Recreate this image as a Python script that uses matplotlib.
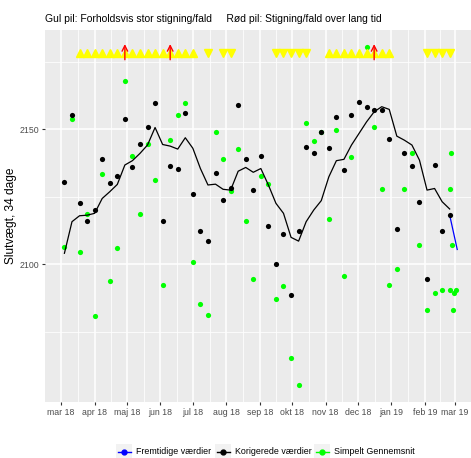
import numpy as np
import pandas as pd
import matplotlib
matplotlib.use('Agg')
import matplotlib.pyplot as plt
from matplotlib.lines import Line2D
from matplotlib.patches import Rectangle

plt.rcParams['font.family'] = ['Liberation Sans', 'DejaVu Sans']

# ---------- DATA ------------------------------------------------------------
uger = pd.date_range('2018-03-04', periods=52, freq='7D')

korrigeret = [2130.5, 2155.3, 2122.6, 2116.0, 2119.9, 2139.0, 2129.9, 2132.6,
              2153.6, 2135.8, 2144.6, 2150.6, 2159.6, 2116.0, 2136.3, 2135.2,
              2156.0, 2126.0, 2112.2, 2108.6, 2133.7, 2123.8, 2128.3, 2158.9,
              2138.8, 2127.6, 2140.0, 2114.1, 2099.9, 2111.0, 2088.5, 2112.2,
              2143.2, 2141.0, 2148.8, 2143.1, 2154.4, 2134.8, 2155.1, 2160.0,
              2158.3, 2157.0, 2157.0, 2146.4, 2113.0, 2141.0, 2136.4, 2122.9,
              2094.4, 2136.8, 2112.3, 2118.1]

gennemsnit = [2106.2, 2153.7, 2104.4, 2118.5, 2080.7, 2133.3, 2093.6, 2105.8,
              2167.8, 2139.9, 2118.4, 2144.3, 2131.1, 2092.3, 2145.9, 2155.2,
              2159.6, 2100.6, 2085.2, 2081.1, 2149.0, 2139.0, 2126.9, 2142.6,
              2116.0, 2094.6, 2132.6, 2129.5, 2086.9, 2091.7, 2065.1, 2055.1,
              2152.3, 2145.6, 2149.0, 2116.7, 2149.6, 2095.6, 2139.7, 2177.4,
              2180.5, 2150.9, 2127.9, 2092.3, 2098.3, 2127.9, 2141.0, 2107.0,
              2082.9, 2089.2, 2090.4, 2090.3]

glattet = [2104.0, 2115.7, 2117.9, 2118.1, 2118.8, 2124.3, 2126.8, 2129.5,
           2136.7, 2138.3, 2141.0, 2144.1, 2150.6, 2144.3, 2143.7, 2142.6,
           2146.8, 2142.9, 2135.4, 2129.3, 2129.6, 2127.7, 2127.4, 2134.4,
           2135.8, 2134.0, 2135.4, 2129.3, 2122.5, 2118.8, 2109.9, 2108.5,
           2115.7, 2120.0, 2123.5, 2132.3, 2138.3, 2138.8, 2144.1, 2148.4,
           2152.7, 2156.4, 2158.3, 2157.3, 2147.4, 2145.9, 2144.1, 2138.5,
           2127.4, 2128.0, 2123.1, 2120.4]

ekstra_dage = pd.to_datetime(['2019-02-24', '2019-02-25', '2019-02-26',
                              '2019-02-27', '2019-02-28', '2019-03-02'])
ekstra_gns = [2127.9, 2141.0, 2107.0, 2082.9, 2089.2, 2090.4]

fremtid_dage = pd.to_datetime(['2019-02-24', '2019-03-03'])
fremtid = [2118.1, 2105.4]

pil_y = 2178.3
op_uger = [2, 3, 4, 5, 6, 7, 8, 9, 10, 11, 12, 13, 14, 15, 16, 17,
           35, 36, 37, 38, 39, 40, 41, 42, 43]
ned_uger = [19, 21, 22, 28, 29, 30, 31, 32, 48, 49, 50, 51]
roed_uger = [8, 14, 41]

maaned_dage = pd.date_range('2018-03-01', periods=13, freq='MS')
maaned_navne = ['mar 18', 'apr 18', 'maj 18', 'jun 18', 'jul 18', 'aug 18',
                'sep 18', 'okt 18', 'nov 18', 'dec 18', 'jan 19', 'feb 19',
                'mar 19']

# ---------- PLOT ------------------------------------------------------------
fig = plt.figure(figsize=(4.71, 4.58), dpi=100)
ax = fig.add_axes([45 / 471, 1 - 402 / 458, 1 - 45 / 471, (402 - 29.5) / 458])
ax.set_facecolor('#EBEBEB')
for s in ax.spines.values():
    s.set_visible(False)

ax.set_xlim(pd.Timestamp('2018-02-14'), pd.Timestamp('2019-03-15 18:00'))
ax.set_ylim(2048.9, 2186.9)

ax.set_xticks(maaned_dage)
ax.set_xticklabels(maaned_navne)
midt = [maaned_dage[i] + (maaned_dage[i + 1] - maaned_dage[i]) / 2
        for i in range(len(maaned_dage) - 1)]
ax.set_xticks(midt, minor=True)
ax.set_yticks([2100, 2150])
ax.set_yticks([2075, 2125, 2175], minor=True)
ax.grid(which='major', color='white', lw=1.1)
ax.grid(which='minor', color='white', lw=0.55)
ax.set_axisbelow(True)
ax.tick_params(which='minor', length=0)
ax.tick_params(which='major', length=2.5, width=0.8, color='#333333',
               labelcolor='#4D4D4D', labelsize=6.3, pad=2)

ax.scatter(uger, gennemsnit, s=14, color='#00FF00', zorder=3, lw=0)
ax.scatter(ekstra_dage, ekstra_gns, s=14, color='#00FF00', zorder=3, lw=0)
ax.plot(uger, glattet, color='black', lw=0.9, zorder=4)
ax.plot(fremtid_dage, fremtid, color='blue', lw=0.9, zorder=4)
ax.scatter(uger, korrigeret, s=14, color='black', zorder=5, lw=0)

ax.plot(uger[op_uger], [pil_y] * len(op_uger), '^', color='#FFFF00', ms=6,
        mec='#FFFF00', zorder=6)
ax.plot(uger[ned_uger], [pil_y] * len(ned_uger), 'v', color='#FFFF00', ms=6,
        mec='#FFFF00', zorder=6)
for k in roed_uger:
    ax.annotate('', xy=(uger[k], pil_y + 3.2), xytext=(uger[k], pil_y - 2.6),
                arrowprops=dict(arrowstyle='->', color='red', lw=1.0,
                                shrinkA=0, shrinkB=0), zorder=7)

ax.set_ylabel('Slutvægt, 34 dage', fontsize=8.6, color='black', labelpad=1.5)

fig.text(45 / 471, 1 - 19 / 458,
         'Gul pil: Forholdsvis stor stigning/fald     Rød pil: Stigning/fald over lang tid',
         fontsize=7.45, va='center', ha='left')

# legend, drawn by hand in figure pixels
leg = [('blue', 'Fremtidige værdier', 116),
       ('black', 'Korigerede værdier', 215),
       ('#00FF00', 'Simpelt Gennemsnit', 314)]
yc = 458 - 451.7
for farve, navn, x0 in leg:
    fig.add_artist(Rectangle((x0 / 471, (yc - 8) / 458), 16 / 471, 16 / 458,
                             transform=fig.transFigure, color='#F2F2F2', lw=0))
    fig.add_artist(Line2D([(x0 + 1.5) / 471, (x0 + 14.5) / 471],
                          [yc / 458, yc / 458], transform=fig.transFigure,
                          color=farve, lw=1, marker=None))
    fig.add_artist(Line2D([(x0 + 8) / 471], [yc / 458],
                          transform=fig.transFigure, color=farve,
                          marker='o', ms=3.5, lw=0))
    fig.text((x0 + 20) / 471, yc / 458, navn, fontsize=6.4, va='center',
             ha='left')

fig.savefig('out.png', dpi=100)
